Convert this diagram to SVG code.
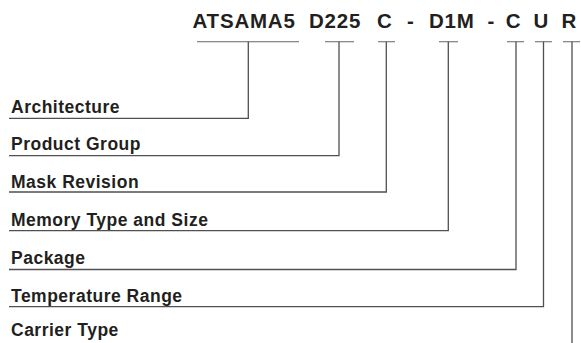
<svg xmlns="http://www.w3.org/2000/svg" width="581" height="343" viewBox="0 0 581 343">
<style>
.hd{font-family:"Liberation Sans",Arial,sans-serif;font-weight:bold;font-size:20.5px;fill:#231f20;letter-spacing:0.8px}
.lb{font-family:"Liberation Sans",Arial,sans-serif;font-weight:bold;font-size:17.5px;fill:#231f20;letter-spacing:0.5px}
.ln{fill:none;stroke:#505050;stroke-width:1.3}
.tk{fill:none;stroke:#666;stroke-width:1.1}
</style>
<rect width="581" height="343" fill="#fff"/>
<g id="header">
<text class="hd" x="192.5" y="27.5">ATSAMA5</text>
<text class="hd" x="309" y="27.5">D225</text>
<text class="hd" x="377" y="27.5">C</text>
<text class="hd" x="407" y="27.5">-</text>
<text class="hd" x="429" y="27.5">D1M</text>
<text class="hd" x="487.5" y="27.5">-</text>
<text class="hd" x="505.8" y="27.5">C</text>
<text class="hd" x="533.5" y="27.5">U</text>
<text class="hd" x="561.5" y="27.5">R</text>
</g>
<g id="node-architecture"><text class="lb" x="11" y="112.5">Architecture</text></g>
<g id="node-product-group"><text class="lb" x="11" y="150">Product Group</text></g>
<g id="node-mask-revision"><text class="lb" x="11" y="187.5">Mask Revision</text></g>
<g id="node-memory"><text class="lb" x="11" y="225.5">Memory Type and Size</text></g>
<g id="node-package"><text class="lb" x="11" y="263.5">Package</text></g>
<g id="node-temperature"><text class="lb" x="11" y="301.5">Temperature Range</text></g>
<g id="node-carrier"><text class="lb" x="11" y="336">Carrier Type</text></g>
<g id="connectors">
<path class="tk" d="M197 41.7H299M325 41.7H354M378 41.7H395M439 41.7H458M507 41.7H524M535 41.7H552M563 41.7H580"/>
<path class="ln" d="M248.3 41.7V118.3H9"/>
<path class="ln" d="M339 41.7V155.7H9"/>
<path class="ln" d="M386.3 41.7V192H9"/>
<path class="ln" d="M448.3 41.7V230.7H9"/>
<path class="ln" d="M516 41.7V269.5H9"/>
<path class="ln" d="M543.5 41.7V306.7H9"/>
<path class="ln" d="M572 41.7V343"/>
</g>
</svg>
